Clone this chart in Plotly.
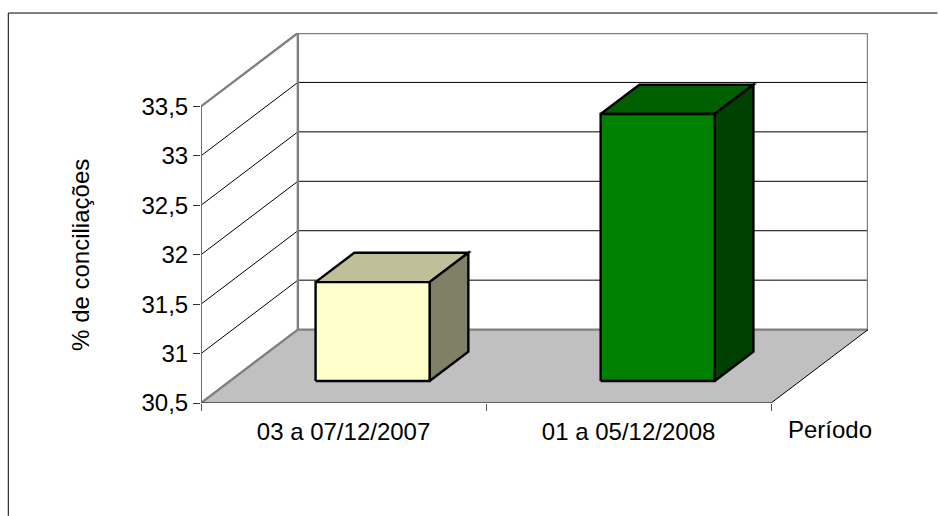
import plotly.graph_objects as go

categories = ["03 a 07/12/2007", "01 a 05/12/2008"]
values = [31.5, 33.2]
front_colors = ["#FFFFCC", "#008000"]
top_colors = ["#BFBF99", "#006000"]
side_colors = ["#808066", "#004000"]
y_ticks = [30.5, 31, 31.5, 32, 32.5, 33, 33.5]
y_labels = ["30,5", "31", "31,5", "32", "32,5", "33", "33,5"]
y_title = "% de conciliações"
x_title = "Período"

W, H = 938, 516
L, R, T, B = 200.5, 868.5, 32.5, 403.0
DX_PX, DY_PX = 97.0, 73.5
UNIT_X = (R - L - DX_PX) / len(categories)
UNIT_Y = (B - T - DY_PX) / (y_ticks[-1] - y_ticks[0])
DX = DX_PX / UNIT_X
DY = DY_PX / UNIT_Y
VMIN, VMAX = y_ticks[0], y_ticks[-1]
NCAT = len(categories)
FONT = "Liberation Sans"
FS = 24


def px(x):
    return (x - L) / (R - L)


def py(y):
    return (B - y) / (B - T)


def proj(x, v, d):
    return x + d * DX, v + d * DY


def poly(pts, fill=None, line="#000000", width=1.0):
    xs, ys = zip(*[proj(*p) for p in pts])
    return go.Scatter(
        x=list(xs), y=list(ys), mode="lines",
        line=dict(color=line, width=width) if line else dict(width=0),
        fill="toself" if fill else None, fillcolor=fill,
        hoverinfo="skip", showlegend=False, cliponaxis=False,
    )


fig = go.Figure()

# wall gridlines
for v in y_ticks[1:-1]:
    fig.add_trace(poly([(0, v, 0), (0, v, 1), (NCAT, v, 1)], width=1))
# wall outlines
GRAY = "#808080"
fig.add_trace(poly([(0, VMAX, 0), (0, VMAX, 1), (NCAT, VMAX, 1), (NCAT, VMIN, 1)], line=GRAY, width=2.4))
fig.add_trace(poly([(0, VMIN, 1), (0, VMAX, 1)], line=GRAY, width=2.4))
# floor
fig.add_trace(poly([(0, VMIN, 0), (NCAT, VMIN, 0), (NCAT, VMIN, 1), (0, VMIN, 1), (0, VMIN, 0)],
                   fill="#C0C0C0", line=None))
fig.add_trace(poly([(0, VMIN, 0), (0, VMIN, 1), (NCAT, VMIN, 1)], line=GRAY, width=2.4))
fig.add_trace(poly([(NCAT, VMIN, 1), (NCAT, VMIN, 0), (0, VMIN, 0)], line="#000000", width=1))
fig.add_trace(poly([(0, VMIN, 0), (0, VMAX, 0)], line="#6E6E6E", width=2))

# bars
for i, val in enumerate(values):
    x0, x1 = i + 0.3, i + 0.7
    d0, d1 = 0.3, 0.7
    fig.add_trace(poly([(x0, val, d0), (x1, val, d0), (x1, val, d1), (x0, val, d1), (x0, val, d0)],
                       fill=top_colors[i], width=2.4))
    fig.add_trace(poly([(x1, VMIN, d0), (x1, VMIN, d1), (x1, val, d1), (x1, val, d0), (x1, VMIN, d0)],
                       fill=side_colors[i], width=2.4))
    fig.add_trace(poly([(x0, VMIN, d0), (x1, VMIN, d0), (x1, val, d0), (x0, val, d0), (x0, VMIN, d0)],
                       fill=front_colors[i], width=2.4))

fig.update_layout(
    width=W, height=H, autosize=False,
    margin=dict(l=L, r=W - R, t=T, b=H - B, pad=0),
    paper_bgcolor="white", plot_bgcolor="rgba(0,0,0,0)",
    font=dict(family=FONT, size=FS, color="#000000"),
    showlegend=False,
    xaxis=dict(
        range=[0, NCAT + DX], showgrid=False, zeroline=False, showline=False,
        tickmode="array", tickvals=[i + 0.5 for i in range(NCAT)], ticktext=categories,
        ticks="", ticklabelstandoff=12, tickfont=dict(family=FONT, size=FS),
        minor=dict(tickmode="array", tickvals=list(range(NCAT + 1)), ticks="outside",
                   ticklen=7, tickwidth=1, tickcolor="#555555", showgrid=False),
    ),
    yaxis=dict(
        range=[VMIN, VMAX + DY], showgrid=False, zeroline=False, showline=False,
        tickmode="array", tickvals=y_ticks, ticktext=y_labels,
        ticks="outside", ticklen=7, tickwidth=1, tickcolor="#333333",
        tickfont=dict(family=FONT, size=FS),
    ),
    annotations=[
        dict(text=y_title, textangle=-90, xref="paper", yref="paper", x=px(80), y=py(255),
             xanchor="center", yanchor="middle", showarrow=False, font=dict(family=FONT, size=FS)),
        dict(text=x_title, xref="paper", yref="paper", x=px(830.5), y=py(430),
             xanchor="center", yanchor="middle", showarrow=False, font=dict(family=FONT, size=FS)),
    ],
    shapes=[
        dict(type="line", xref="paper", yref="paper", x0=px(7.5), x1=px(W), y0=py(12.5), y1=py(12.5),
             line=dict(color="#000000", width=1), layer="below"),
        dict(type="line", xref="paper", yref="paper", x0=px(7.5), x1=px(7.5), y0=py(12.5), y1=py(H),
             line=dict(color="#000000", width=1), layer="below"),
    ],
)

fig.write_html(
    "out.html", config={"displayModeBar": False},
    post_script="document.body.style.margin='0';document.body.style.overflow='hidden';"
                "document.querySelectorAll('.js-line').forEach(function(e){"
                "e.style.strokeLinejoin='miter';e.style.strokeMiterlimit='10';});",
)
